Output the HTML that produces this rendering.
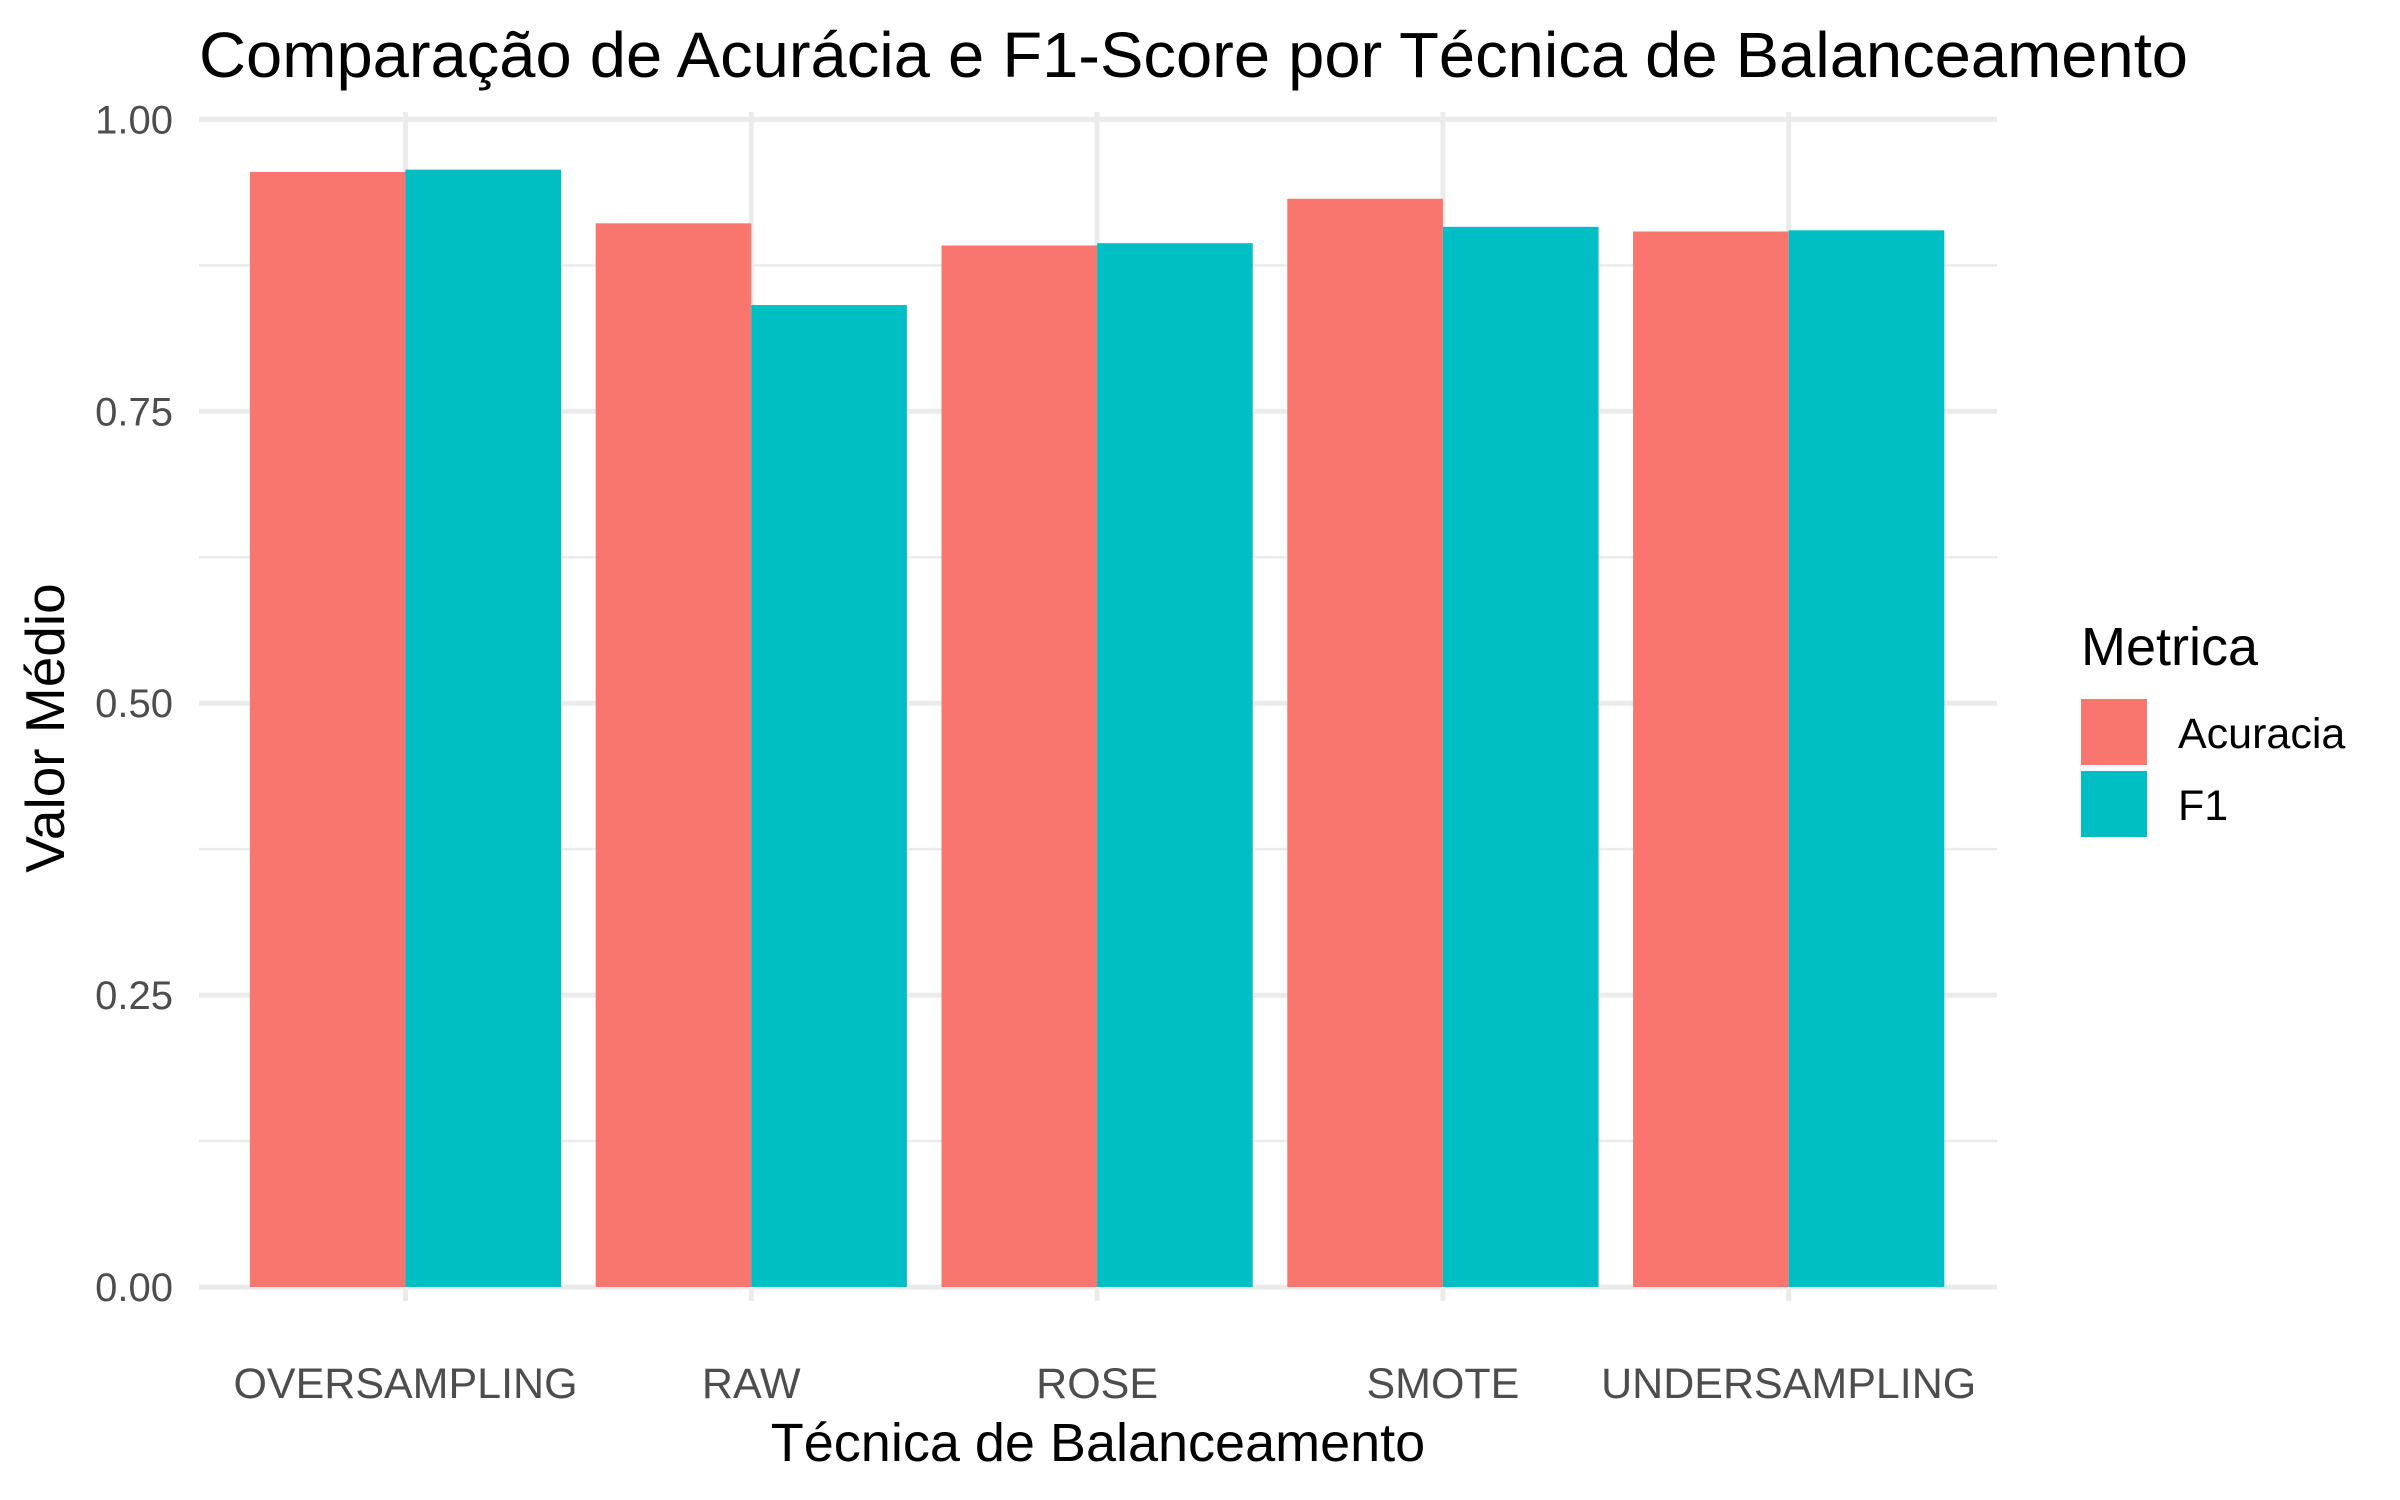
<!DOCTYPE html>
<html><head><meta charset="utf-8"><style>body{margin:0;background:#fff}svg{display:block}</style></head>
<body>
<svg id="chart" width="2400" height="1500" xmlns="http://www.w3.org/2000/svg" font-family="Liberation Sans, Arial, sans-serif">
<rect width="2400" height="1500" fill="#fff"/>
<g id="grid"></g>
<g id="bars"></g>
<g id="yticks"></g>
<g id="xticks"></g>
<text x="199" y="77" font-size="64" fill="#000" textLength="1989" lengthAdjust="spacingAndGlyphs">Comparação de Acurácia e F1-Score por Técnica de Balanceamento</text>
<text x="1098" y="1461" font-size="54" text-anchor="middle" fill="#000">Técnica de Balanceamento</text>
<text transform="translate(64,728) rotate(-90)" font-size="55" text-anchor="middle" fill="#000">Valor Médio</text>
<g>
<text x="2081" y="665" font-size="54" fill="#000">Metrica</text>
<rect x="2081" y="699" width="66" height="66" fill="#F8766D"/>
<rect x="2081" y="771" width="66" height="66" fill="#00BFC4"/>
<text x="2178" y="748" font-size="43" fill="#000">Acuracia</text>
<text x="2178" y="820" font-size="43" fill="#000">F1</text>
</g>
<script>
const categories = ["OVERSAMPLING","RAW","ROSE","SMOTE","UNDERSAMPLING"];
const acuracia = [0.955, 0.911, 0.892, 0.932, 0.904];
const f1 = [0.957, 0.841, 0.894, 0.908, 0.905];
const yTicks = [0, 0.25, 0.5, 0.75, 1.0];
const yTickLabels = ["0.00","0.25","0.50","0.75","1.00"];
const yMinor = [0.125, 0.375, 0.625, 0.875];

const NS = "http://www.w3.org/2000/svg";
const PL = 199, PR = 1997, PT = 112, PB = 1301;
const Y0 = 1287, Y1 = 119.4;
function y(v){ return Y0 + (Y1 - Y0) * v; }
const step = 345.8;
function x(i){ return 405.5 + step * i; }
function mk(tag, attrs, parent){ const e = document.createElementNS(NS, tag); for (const k in attrs) e.setAttribute(k, attrs[k]); parent.appendChild(e); return e; }

const grid = document.getElementById('grid');
yMinor.forEach(v => {
  const l = mk('line', {x1:PL, x2:PR, y1:y(v), y2:y(v), stroke:'#EBEBEB', 'stroke-width':2.5}, grid);
  
  
});
yTicks.forEach(v => {
  const l = mk('line', {x1:PL, x2:PR, y1:y(v), y2:y(v), stroke:'#EBEBEB', 'stroke-width':5}, grid);
  
  
});
categories.forEach((c, i) => {
  const l = mk('line', {x1:x(i), x2:x(i), y1:PT, y2:PB, stroke:'#EBEBEB', 'stroke-width':5}, grid);
  
  
});

const bars = document.getElementById('bars');
const bw = step * 0.9 / 2;
categories.forEach((c, i) => {
  const a = mk('rect', {x:x(i) - bw, y:y(acuracia[i]), width:bw, height:y(0) - y(acuracia[i]), fill:'#F8766D'}, bars);
  
  
  const f = mk('rect', {x:x(i), y:y(f1[i]), width:bw, height:y(0) - y(f1[i]), fill:'#00BFC4'}, bars);
  
  
});

const yt = document.getElementById('yticks');
yTicks.forEach((v, i) => {
  const t = mk('text', {x:173, y:y(v) + 14, 'font-size':40, 'text-anchor':'end', fill:'#4D4D4D'}, yt);
  t.textContent = yTickLabels[i];
  
  
});
const xt = document.getElementById('xticks');
categories.forEach((c, i) => {
  const t = mk('text', {x:x(i), y:1398, 'font-size':43, 'text-anchor':'middle', fill:'#4D4D4D'}, xt);
  t.textContent = c;
  
  
});
</script>
</svg>
</body></html>
